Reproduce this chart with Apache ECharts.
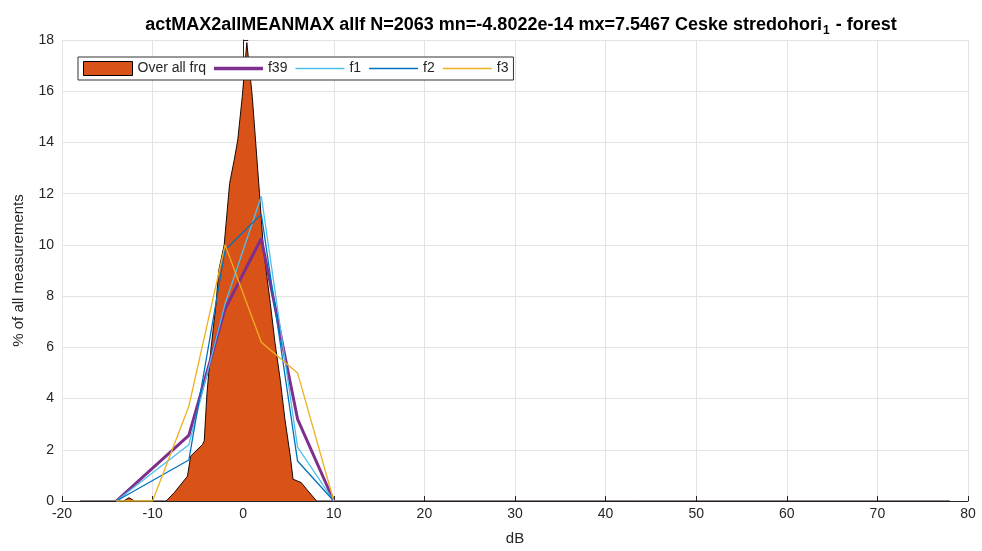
<!DOCTYPE html>
<html>
<head>
<meta charset="utf-8">
<script src="https://cdn.jsdelivr.net/npm/echarts@6/dist/echarts.min.js"></script>
<style>
html,body{margin:0;padding:0;background:#fff;}
#chart{width:982px;height:551px;}
</style>
</head>
<body>
<div id="chart"></div>
<script>
// Over all frq (area): [dB, %]
const overallX = [-18, -13.2, -12.6, -12.0, -8.5, -7.6, -6.15, -5.8, -4.5, -4.3, -4.0, -3.6, -3.0, -2.7, -2.1, -1.5, -1.0, -0.6, -0.1, 0.4, 1.0, 1.8, 2.2, 2.6, 3.0, 3.5, 4.1, 4.6, 5.2, 5.5, 6.4, 7.0, 8.1, 78];
const overallY = [0, 0, 0.13, 0, 0, 0.33, 0.97, 1.75, 2.2, 2.35, 4.2, 5.8, 7.7, 9.0, 10.0, 12.4, 13.3, 14.1, 15.8, 17.9, 15.8, 12.0, 10.0, 8.8, 7.7, 6.2, 4.7, 3.2, 1.75, 0.85, 0.72, 0.46, 0, 0];
// per-frequency lines
const lineX = [-14, -10, -6, -2, 2, 6, 10];
const f39 = [0, 1.28, 2.56, 7.5, 10.25, 3.2, 0];
const f1 = [0, 1.1, 2.2, 7.7, 11.9, 2.1, 0];
const f2 = [0, 0.8, 1.6, 9.8, 11.2, 1.56, 0];
const f3 = [0, 0, 3.7, 10.0, 6.2, 5.0, 0];
const xTicks = [-20, -10, 0, 10, 20, 30, 40, 50, 60, 70, 80];
const yTicks = [0, 2, 4, 6, 8, 10, 12, 14, 16, 18];

const zip = (xs, ys) => xs.map((x, i) => [x, ys[i]]);
const FONT = 'Liberation Sans, Arial, sans-serif';
const TXT = '#262626';
const C = {area: '#D95319', f39: '#7E2F8E', f1: '#4DBEEE', f2: '#0072BD', f3: '#EDB120'};

const chart = echarts.init(document.getElementById('chart'), null, {renderer: 'canvas'});
const lineSeries = (name, ys, color, width) => ({
  name, type: 'line', data: zip(lineX, ys), symbol: 'none', showSymbol: false,
  lineStyle: {color, width}, itemStyle: {color}, z: 3
});
const thin = 'path://M0,0 H100 V3 H0 Z';
const thick = 'path://M0,0 H100 V7 H0 Z';
chart.setOption({
  animation: false,
  backgroundColor: '#fff',
  title: {
    text: '{a|actMAX2allMEANMAX allf N=2063 mn=-4.8022e-14 mx=7.5467 Ceske stredohori}{s|1}{a| - forest}',
    left: 516, textAlign: 'center', top: 8,
    textStyle: {
      rich: {
        a: {fontFamily: FONT, fontSize: 18, fontWeight: 'bold', color: '#000'},
        s: {fontFamily: FONT, fontSize: 12, fontWeight: 'bold', color: '#000', padding: [12, 1, 0, 1]}
      }
    }
  },
  legend: {
    left: 78, top: 57,
    orient: 'horizontal',
    itemWidth: 49, itemHeight: 14, itemGap: 8,
    symbolKeepAspect: true,
    padding: [4, 5, 4, 5],
    borderColor: '#333', borderWidth: 1, backgroundColor: '#fff',
    textStyle: {fontFamily: FONT, fontSize: 14, color: TXT},
    data: [
      {name: 'Over all frq', icon: 'rect', itemStyle: {color: C.area, borderColor: '#000', borderWidth: 1}},
      {name: 'f39', icon: thick, itemStyle: {color: C.f39, borderWidth: 0}},
      {name: 'f1', icon: thin, itemStyle: {color: C.f1, borderWidth: 0}},
      {name: 'f2', icon: thin, itemStyle: {color: C.f2, borderWidth: 0}},
      {name: 'f3', icon: thin, itemStyle: {color: C.f3, borderWidth: 0}}
    ]
  },
  grid: {left: 62, right: 14, top: 40, bottom: 49, containLabel: false},
  xAxis: {
    type: 'value', min: xTicks[0], max: xTicks[xTicks.length - 1], interval: 10,
    name: 'dB', nameLocation: 'middle', nameGap: 30,
    nameTextStyle: {fontFamily: FONT, fontSize: 15, color: TXT},
    axisLine: {onZero: false, lineStyle: {color: '#262626', width: 1}},
    axisTick: {inside: true, length: 5, lineStyle: {color: '#262626'}},
    axisLabel: {fontFamily: FONT, fontSize: 14, color: TXT, margin: 6},
    splitLine: {show: true, lineStyle: {color: '#e3e3e3', width: 1}}
  },
  yAxis: {
    type: 'value', min: yTicks[0], max: yTicks[yTicks.length - 1], interval: 2,
    name: '% of all measurements', nameLocation: 'middle', nameGap: 36,
    nameTextStyle: {fontFamily: FONT, fontSize: 15, color: TXT},
    axisLine: {show: true, lineStyle: {color: '#262626', width: 1}},
    axisTick: {show: true, inside: true, length: 5, lineStyle: {color: '#262626'}},
    axisLabel: {fontFamily: FONT, fontSize: 14, color: TXT, margin: 8},
    splitLine: {show: true, lineStyle: {color: '#e3e3e3', width: 1}}
  },
  series: [
    {
      name: 'Over all frq', type: 'line', data: zip(overallX, overallY),
      symbol: 'none', showSymbol: false, z: 2,
      lineStyle: {color: '#1a0a04', width: 1},
      itemStyle: {color: C.area},
      areaStyle: {color: C.area, opacity: 1}
    },
    lineSeries('f39', f39, C.f39, 3),
    lineSeries('f1', f1, C.f1, 1.3),
    lineSeries('f2', f2, C.f2, 1.3),
    lineSeries('f3', f3, C.f3, 1.3)
  ]
});
</script>
</body>
</html>
